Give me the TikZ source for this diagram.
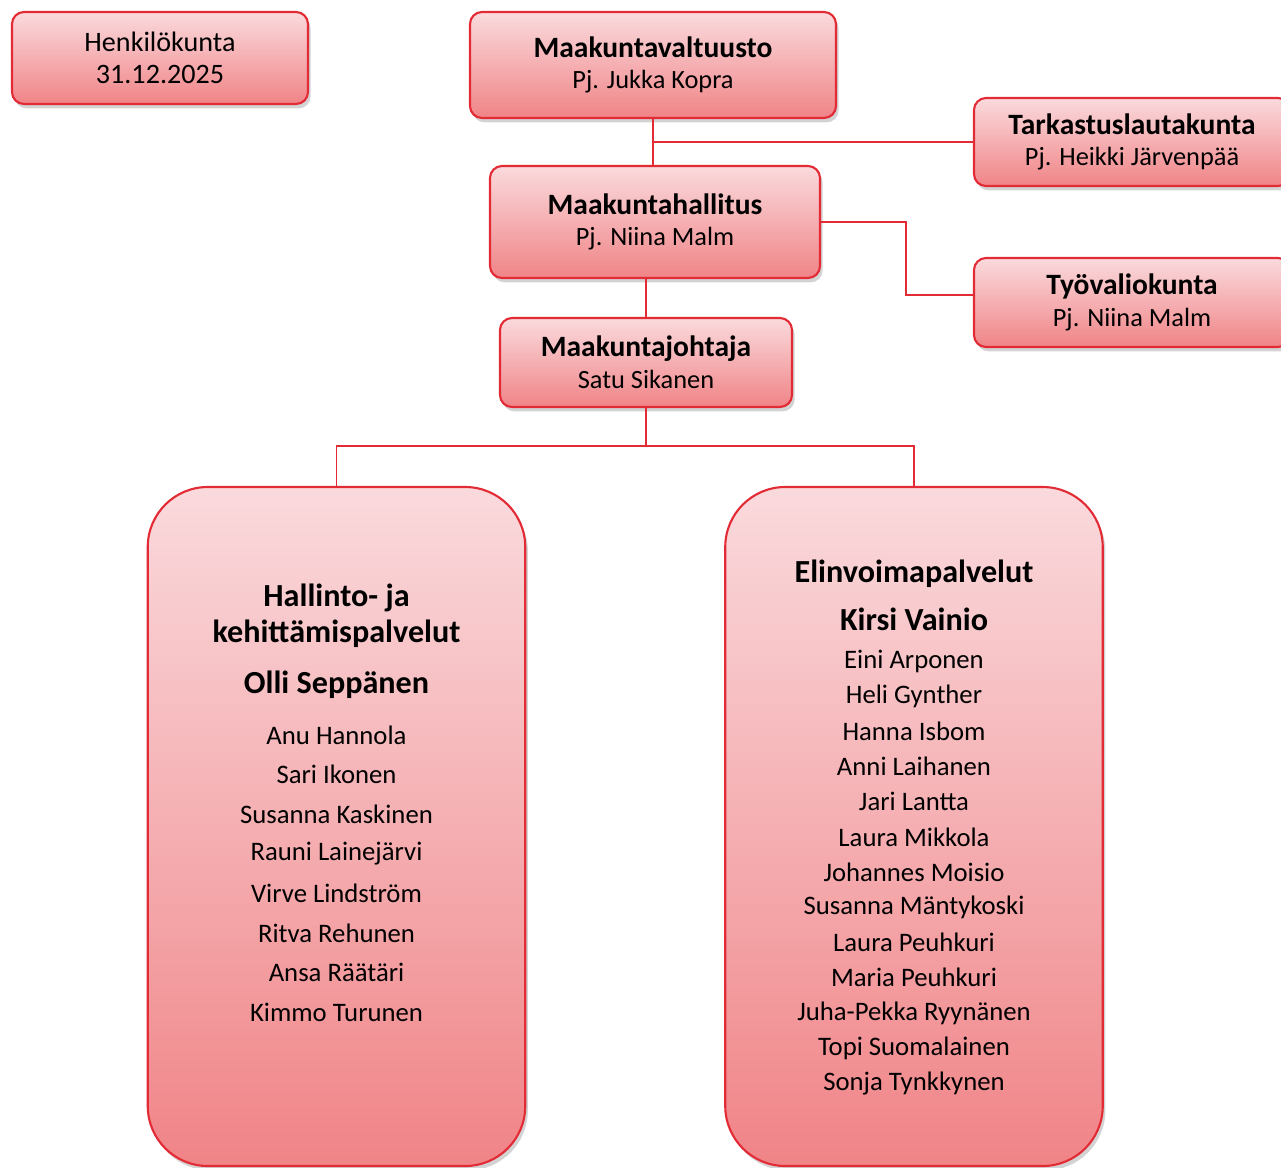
\documentclass[tikz,border=0pt]{standalone}
\usepackage{fontspec}
\setmainfont{Carlito}
\usepackage{tikz}
\usetikzlibrary{shadows}

\definecolor{boxtop}{HTML}{FADADD}
\definecolor{boxbot}{HTML}{F08487}
\definecolor{boxline}{HTML}{E32B36}

\newcommand{\unitname}[1]{{\fontsize{16.8}{19}\selectfont\bfseries #1}}

\tikzset{
  unit/.style={draw=boxline, line width=1.2pt, rounded corners=0.24cm,
    top color=boxtop, bottom color=boxbot, align=center, inner sep=0pt,
    drop shadow={shadow xshift=1.5pt, shadow yshift=-2.5pt, opacity=0.35},
    font=\fontsize{15}{18}\selectfont},
  dept/.style={unit, rounded corners=1.2cm, minimum width=7.55cm, minimum height=13.58cm},
  link/.style={draw=boxline, line width=1pt},
  head/.style={font=\fontsize{18.3}{22}\selectfont\bfseries},
  staff/.style={font=\fontsize{15.2}{18}\selectfont}
}

\begin{document}
\begin{tikzpicture}
\useasboundingbox (0,0) rectangle (25.62,-23.34);

\node[unit, minimum width=5.92cm, minimum height=1.84cm, font=\fontsize{16}{18}\selectfont] (henk) at (3.2,-1.16)
  {Henkilökunta\\31.12.2025};
\node[unit, minimum width=7.32cm, minimum height=2.12cm] (valt) at (13.06,-1.3)
  {\unitname{Maakuntavaltuusto}\\Pj. Jukka Kopra};
\node[unit, minimum width=6.32cm, minimum height=1.76cm] (tark) at (22.64,-2.84)
  {\unitname{Tarkastuslautakunta}\\Pj. Heikki Järvenpää};
\node[unit, minimum width=6.6cm, minimum height=2.24cm] (hall) at (13.1,-4.44)
  {\unitname{Maakuntahallitus}\\Pj. Niina Malm};
\node[unit, minimum width=6.32cm, minimum height=1.78cm] (tyov) at (22.64,-6.05)
  {\unitname{Työvaliokunta}\\Pj. Niina Malm};
\node[unit, minimum width=5.84cm, minimum height=1.78cm] (joht) at (12.92,-7.25)
  {\unitname{Maakuntajohtaja}\\Satu Sikanen};

\node[dept] (hk) at (6.73,-16.53) {};
\node[dept] (ev) at (18.28,-16.53) {};

\coordinate (knee) at (18.12,-5.9);
\coordinate (bus) at (joht.south |- 0,-8.92);

\draw[link] (valt.south) -- (valt.south |- hall.north);
\draw[link] (tark.west) -- (tark.west -| valt.south);
\draw[link] (hall.east) -| (knee) -- (knee -| tyov.west);
\draw[link] (joht.north) -- (joht.north |- hall.south);
\draw[link] (joht.south) -- (bus);
\draw[link] (hk.north) |- (bus) -| (ev.north);

\node[head] (hk1) at (6.73,-11.96) {Hallinto- ja};
\node[head] (hk2) at (6.73,-12.68) {kehittämispalvelut};
\node[head] (hk3) at (6.73,-13.70) {Olli Seppänen};
\foreach \who [count=\i from 0] in {Anu Hannola, Sari Ikonen, Susanna Kaskinen,
    Rauni Lainejärvi, Virve Lindström, Ritva Rehunen, Ansa Räätäri, Kimmo Turunen}
  \node[staff] (hkp\i) at (6.73,-14.70-0.792*\i) {\who};

\node[head] (ev1) at (18.28,-11.48) {Elinvoimapalvelut};
\node[head] (ev2) at (18.28,-12.38) {Kirsi Vainio};
\foreach \who [count=\i from 0] in {Eini Arponen, Heli Gynther, Hanna Isbom,
    Anni Laihanen, Jari Lantta, Laura Mikkola, Johannes Moisio, Susanna Mäntykoski,
    Laura Peuhkuri, Maria Peuhkuri, Juha-Pekka Ryynänen, Topi Suomalainen, Sonja Tynkkynen}
  \node[staff] (evp\i) at (18.28,-13.22-0.704*\i) {\who};
\end{tikzpicture}
\end{document}
